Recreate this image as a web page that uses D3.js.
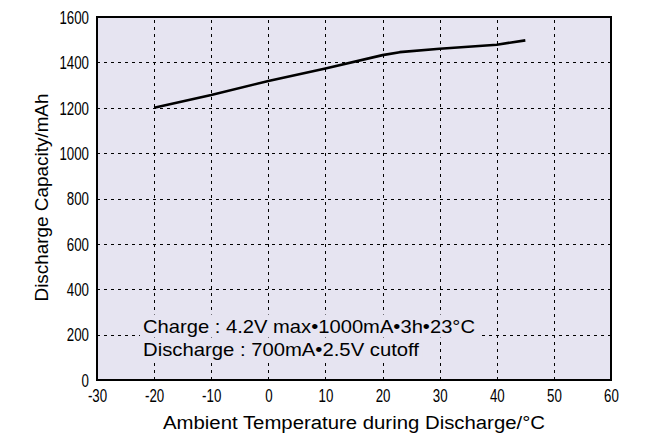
<!DOCTYPE html>
<html><head><meta charset="utf-8">
<script src="https://cdn.jsdelivr.net/npm/d3@7"></script>
<style>body{margin:0;background:#fff}svg{display:block}</style>
</head><body>
<svg id="c" width="648" height="439"></svg>
<script>
const temps = [-20, -10, 0, 10, 20, 23, 30, 40, 45];
const capacity = [1200, 1256, 1318, 1373, 1432, 1445, 1460, 1478, 1497];
const xTicks = [-30, -20, -10, 0, 10, 20, 30, 40, 50, 60];
const yTicks = [0, 200, 400, 600, 800, 1000, 1200, 1400, 1600];
const notes = ["Charge : 4.2V max\u20221000mA\u20223h\u202223\u00b0C", "Discharge : 700mA\u20222.5V cutoff"];
const xTitle = "Ambient Temperature during Discharge/\u00b0C";
const yTitle = "Discharge Capacity/mAh";

const svg = d3.select("#c");
const L = 97, R = 611, T = 17, B = 380;
const x = d3.scaleLinear().domain([-30, 60]).range([L, R]);
const y = d3.scaleLinear().domain([0, 1600]).range([B, T]);
const font = "'Liberation Sans',Arial,Helvetica,sans-serif";
const bg = "#e6e4f1";

svg.append("rect").attr("x", L).attr("y", T).attr("width", R - L).attr("height", B - T).attr("fill", bg);

const grid = svg.append("g").attr("stroke", "#000").attr("stroke-width", 1).attr("stroke-dasharray", "3,4");
grid.selectAll("line.v").data(xTicks.slice(1, -1)).join("line")
  .attr("x1", d => Math.round(x(d)) + 0.5).attr("x2", d => Math.round(x(d)) + 0.5)
  .attr("y1", B).attr("y2", T);
grid.selectAll("line.h").data(yTicks.slice(1, -1)).join("line")
  .attr("y1", d => Math.round(y(d)) + 0.5).attr("y2", d => Math.round(y(d)) + 0.5)
  .attr("x1", L).attr("x2", R);

// annotations with background
const noteW = [332, 276];
const ann = svg.append("g");
notes.forEach((t, i) => {
  const g = ann.append("g");
  const r = g.append("rect").attr("fill", bg);
  const tx = g.append("text").attr("x", 143).attr("y", 332.5 + i * 23.5)
    .attr("font-family", font).attr("font-size", 18.5).attr("fill", "#000")
    .attr("textLength", noteW[i]).attr("lengthAdjust", "spacingAndGlyphs").text(t);
  const bb = tx.node().getBBox();
  r.attr("x", bb.x - 3).attr("y", bb.y - 1).attr("width", bb.width + 6).attr("height", bb.height + 2);
});

svg.append("path").datum(temps.map((t, i) => [t, capacity[i]]))
  .attr("fill", "none").attr("stroke", "#000").attr("stroke-width", 2.6).attr("stroke-linejoin", "round")
  .attr("d", d3.line().x(d => x(d[0])).y(d => y(d[1])));

svg.append("rect").attr("x", L).attr("y", T).attr("width", R - L).attr("height", B - T)
  .attr("fill", "none").attr("stroke", "#000").attr("stroke-width", 2);

const sx = 0.76;
const fmt = d => String(d);
const xa = svg.append("g").attr("transform", `translate(0,${B})`)
  .call(d3.axisBottom(x).tickValues(xTicks).tickSize(0).tickFormat(fmt));
xa.select(".domain").remove();
xa.selectAll("text").attr("font-family", font).attr("font-size", 17.5).attr("fill", "#000")
  .attr("y", 22.5).attr("dy", 0).attr("transform", `scale(${sx},1)`);

const ya = svg.append("g").attr("transform", `translate(${L},0)`)
  .call(d3.axisLeft(y).tickValues(yTicks).tickSize(0).tickFormat(fmt));
ya.select(".domain").remove();
ya.selectAll("text").attr("font-family", font).attr("font-size", 17.5).attr("fill", "#000")
  .attr("x", -8 / sx).attr("dy", "0.36em").attr("transform", `scale(${sx},1)`);

svg.append("text").attr("x", 354).attr("y", 429).attr("text-anchor", "middle")
  .attr("font-family", font).attr("font-size", 18).attr("fill", "#000")
  .attr("textLength", 382).attr("lengthAdjust", "spacingAndGlyphs").text(xTitle);
svg.append("text").attr("transform", "translate(47.5,197.5) rotate(-90)").attr("text-anchor", "middle")
  .attr("font-family", font).attr("font-size", 18.5).attr("fill", "#000")
  .attr("textLength", 208).attr("lengthAdjust", "spacingAndGlyphs").text(yTitle);
</script>
</body></html>
